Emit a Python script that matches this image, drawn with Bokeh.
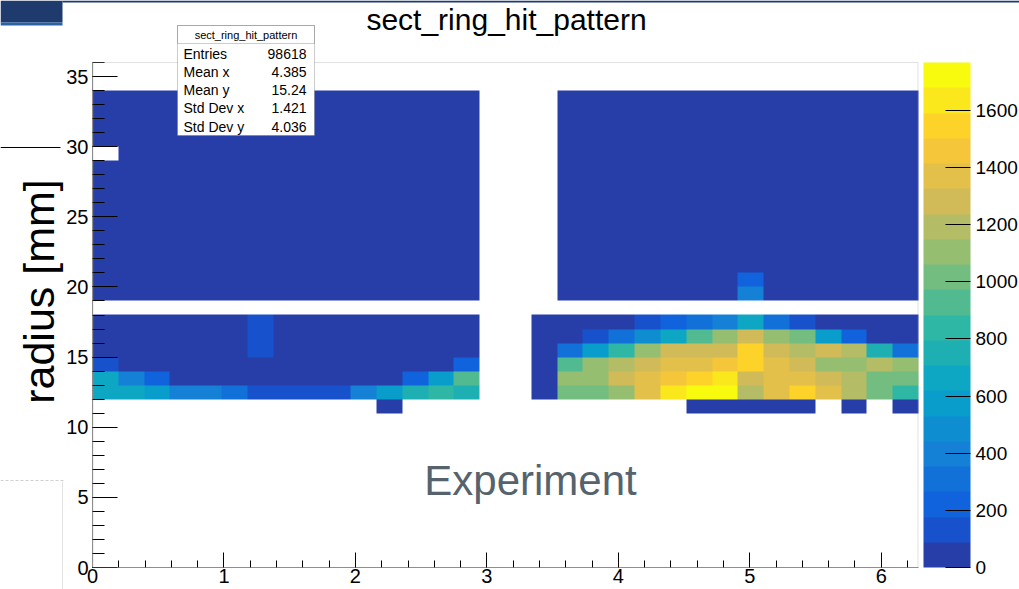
import numpy as np
from bokeh.plotting import figure
from bokeh.models import (LinearColorMapper, ColorBar, SingleIntervalTicker,
                          BoxAnnotation, Label, Range1d)
from bokeh.embed import file_html
from bokeh.resources import INLINE

# ---------------- data ----------------
HIST_NAME = "sect_ring_hit_pattern"
Y_TITLE = "radius [mm]"
TAG_TEXT = "Experiment"
N_PHI_BINS = 32
PHI_MAX = 2 * np.pi
R_MIN, R_MAX = 0, 36          # 1 mm radius bins

STAT_NAMES = ["Entries", "Mean x", "Mean y", "Std Dev x", "Std Dev y"]
STAT_VALUES = ["98618", "4.385", "15.24", "1.421", "4.036"]

CBAR_TICK_STEP = 200
N_LEVELS = 20

# counts per phi bin (32 bins over 0..2pi), one list per 1 mm radius row (lower edge); 0 = empty bin
r33 = [25, 25, 25, 25, 25, 25, 25, 25, 25, 25, 25, 25, 25, 25, 25, 0, 0, 0, 25, 25, 25, 25, 25, 25, 25, 25, 25, 25, 25, 25, 25, 25]
r32 = [25, 25, 25, 25, 25, 25, 25, 25, 25, 25, 25, 25, 25, 25, 25, 0, 0, 0, 25, 25, 25, 25, 25, 25, 25, 25, 25, 25, 25, 25, 25, 25]
r31 = [25, 25, 25, 25, 25, 25, 25, 25, 25, 25, 25, 25, 25, 25, 25, 0, 0, 0, 25, 25, 25, 25, 25, 25, 25, 25, 25, 25, 25, 25, 25, 25]
r30 = [25, 25, 25, 25, 25, 25, 25, 25, 25, 25, 25, 25, 25, 25, 25, 0, 0, 0, 25, 25, 25, 25, 25, 25, 25, 25, 25, 25, 25, 25, 25, 25]
r29 = [0, 25, 25, 25, 25, 25, 25, 25, 25, 25, 25, 25, 25, 25, 25, 0, 0, 0, 25, 25, 25, 25, 25, 25, 25, 25, 25, 25, 25, 25, 25, 25]
r28 = [25, 25, 25, 25, 25, 25, 25, 25, 25, 25, 25, 25, 25, 25, 25, 0, 0, 0, 25, 25, 25, 25, 25, 25, 25, 25, 25, 25, 25, 25, 25, 25]
r27 = [25, 25, 25, 25, 25, 25, 25, 25, 25, 25, 25, 25, 25, 25, 25, 0, 0, 0, 25, 25, 25, 25, 25, 25, 25, 25, 25, 25, 25, 25, 25, 25]
r26 = [25, 25, 25, 25, 25, 25, 25, 25, 25, 25, 25, 25, 25, 25, 25, 0, 0, 0, 25, 25, 25, 25, 25, 25, 25, 25, 25, 25, 25, 25, 25, 25]
r25 = [25, 25, 25, 25, 25, 25, 25, 25, 25, 25, 25, 25, 25, 25, 25, 0, 0, 0, 25, 25, 25, 25, 25, 25, 25, 25, 25, 25, 25, 25, 25, 25]
r24 = [25, 25, 25, 25, 25, 25, 25, 25, 25, 25, 25, 25, 25, 25, 25, 0, 0, 0, 25, 25, 25, 25, 25, 25, 25, 25, 25, 25, 25, 25, 25, 25]
r23 = [25, 25, 25, 25, 25, 25, 25, 25, 25, 25, 25, 25, 25, 25, 25, 0, 0, 0, 25, 25, 25, 25, 25, 25, 25, 25, 25, 25, 25, 25, 25, 25]
r22 = [25, 25, 25, 25, 25, 25, 25, 25, 25, 25, 25, 25, 25, 25, 25, 0, 0, 0, 25, 25, 25, 25, 25, 25, 25, 25, 25, 25, 25, 25, 25, 25]
r21 = [25, 25, 25, 25, 25, 25, 25, 25, 25, 25, 25, 25, 25, 25, 25, 0, 0, 0, 25, 25, 25, 25, 25, 25, 25, 25, 25, 25, 25, 25, 25, 25]
r20 = [25, 25, 25, 25, 25, 25, 25, 25, 25, 25, 25, 25, 25, 25, 25, 0, 0, 0, 25, 25, 25, 25, 25, 25, 25, 220, 25, 25, 25, 25, 25, 25]
r19 = [25, 25, 25, 25, 25, 25, 25, 25, 25, 25, 25, 25, 25, 25, 25, 0, 0, 0, 25, 25, 25, 25, 25, 25, 25, 400, 25, 25, 25, 25, 25, 25]
r17 = [25, 25, 25, 25, 25, 25, 130, 25, 25, 25, 25, 25, 25, 25, 25, 0, 0,
       25, 25, 25, 25, 130, 220, 310, 400, 665, 310, 130, 25, 25, 25, 25]
r16 = [25, 25, 25, 25, 25, 25, 130, 25, 25, 25, 25, 25, 25, 25, 25, 0, 0,
       25, 25, 130, 310, 490, 665, 930, 1105, 1285, 1105, 1020, 575, 220, 25, 25]
r15 = [25, 25, 25, 25, 25, 25, 130, 25, 25, 25, 25, 25, 25, 25, 25, 0, 0,
       25, 310, 575, 840, 1105, 1285, 1285, 1285, 1550, 1285, 1195, 1285, 1195, 750, 310]
r14 = [130, 25, 25, 25, 25, 25, 25, 25, 25, 25, 25, 25, 25, 25, 220, 0, 0,
       25, 930, 1105, 1195, 1285, 1370, 1370, 1460, 1550, 1370, 1285, 1105, 1105, 1195, 1105]
r13 = [665, 400, 220, 25, 25, 25, 25, 25, 25, 25, 25, 25, 220, 575, 930, 0, 0,
       25, 1105, 1105, 1285, 1370, 1460, 1550, 1640, 1285, 1370, 1370, 1285, 1195, 1020, 1020]
r12 = [665, 665, 575, 400, 380, 310, 130, 130, 130, 130, 400, 600, 750, 840, 750, 0, 0,
       25, 1020, 1020, 1105, 1370, 1640, 1730, 1768, 1195, 1370, 1550, 1370, 1195, 1020, 840]
r11 = [0, 0, 0, 0, 0, 0, 0, 0, 0, 0, 0, 25, 0, 0, 0, 0, 0,
       0, 0, 0, 0, 0, 0, 25, 25, 25, 25, 25, 0, 25, 0, 25]

ROWS = {33: r33, 32: r32, 31: r31, 30: r30, 29: r29, 28: r28, 27: r27, 26: r26, 25: r25,
        24: r24, 23: r23, 22: r22, 21: r21, 20: r20, 19: r19,
        17: r17, 16: r16, 15: r15, 14: r14, 13: r13, 12: r12, 11: r11}

# ---------------- ROOT kBird palette (20 contour levels) ----------------
BIRD_R = [0.2082, 0.0592, 0.0780, 0.0232, 0.1802, 0.5301, 0.8186, 0.9956, 0.9764]
BIRD_G = [0.1664, 0.3599, 0.5041, 0.6419, 0.7178, 0.7492, 0.7328, 0.7862, 0.9832]
BIRD_B = [0.5293, 0.8684, 0.8385, 0.7914, 0.6425, 0.4662, 0.3499, 0.1968, 0.0539]
stops = np.linspace(0, 1, len(BIRD_R))
palette = []
for i in range(N_LEVELS):
    t = int((i + 0.99) * 255 / N_LEVELS) / 254
    rgb = [int(round(255 * np.interp(t, stops, c))) for c in (BIRD_R, BIRD_G, BIRD_B)]
    palette.append("#%02x%02x%02x" % tuple(rgb))

# ---------------- 2D histogram array (rows = radius bins, cols = phi bins) ----------------
n_r = R_MAX - R_MIN
grid = np.full((n_r, N_PHI_BINS), np.nan)
for r_low, counts in ROWS.items():
    row = np.array(counts, dtype=float)
    row[row <= 0] = np.nan
    grid[r_low - R_MIN, :] = row
z_max = float(np.nanmax(grid))
mapper = LinearColorMapper(palette=palette, low=0, high=z_max, nan_color=(0, 0, 0, 0))

# ---------------- layout geometry (canvas pixels) ----------------
W, H = 1019, 589
F_L, F_R, F_T, F_B = 92, 918, 62, 567          # histogram pad frame inside the canvas

def dx(px):
    return (px - F_L) / (F_R - F_L) * PHI_MAX

def dy(py):
    return R_MIN + (F_B - py) / (F_B - F_T) * (R_MAX - R_MIN)

FONT = "Liberation Sans"
# the plotting frame covers the whole canvas; axes are pinned to the histogram pad with fixed_location
p = figure(width=W, height=H, x_range=Range1d(dx(0), dx(W)), y_range=Range1d(dy(H), dy(0)),
           output_backend="svg", toolbar_location=None,
           min_border_left=0, min_border_right=0, min_border_top=0, min_border_bottom=0,
           background_fill_color="white", border_fill_color="white", outline_line_color=None)
p.title.visible = False
p.grid.visible = False

p.image(image=[grid], x=0, y=R_MIN, dw=PHI_MAX, dh=n_r, color_mapper=mapper)

for ax in (p.xaxis[0], p.yaxis[0]):
    ax.fixed_location = 0
    ax.axis_line_color = "#8a8a8a"
    ax.major_tick_line_color = "black"
    ax.minor_tick_line_color = "black"
    ax.major_tick_out = 0
    ax.minor_tick_out = 0
    ax.major_label_text_font = FONT
    ax.major_label_text_font_size = "20px"
    ax.major_label_text_color = "black"

p.xaxis.bounds = (0, PHI_MAX)
p.xaxis.ticker = SingleIntervalTicker(interval=1, num_minor_ticks=5)
p.xaxis.major_tick_in = 15
p.xaxis.minor_tick_in = 7
p.xaxis.major_label_standoff = 1

p.yaxis.bounds = (R_MIN, R_MAX)
p.yaxis.ticker = SingleIntervalTicker(interval=5, num_minor_ticks=5)
p.yaxis.major_tick_in = 25
p.yaxis.minor_tick_in = 12
p.yaxis.major_label_standoff = 4

cb = ColorBar(color_mapper=mapper,
              ticker=SingleIntervalTicker(interval=CBAR_TICK_STEP, num_minor_ticks=0),
              location=(F_R + 5, H - F_B), width=47, height=F_B - F_T, padding=0, margin=0,
              major_tick_in=25, major_tick_out=0, major_tick_line_color="black",
              minor_tick_line_color=None, label_standoff=5,
              major_label_text_font=FONT, major_label_text_font_size="19px",
              major_label_text_color="black",
              bar_line_color=None, border_line_color=None, background_fill_alpha=0)
p.add_layout(cb)

# ---------------- helpers (canvas pixel placement) ----------------
def cbox(l, r, t, b, **kw):
    return BoxAnnotation(left=l, right=r, top=t, bottom=b, left_units="canvas", right_units="canvas",
                         top_units="canvas", bottom_units="canvas", **kw)

def clabel(x, y, text, **kw):
    return Label(x=x, y=y, x_units="canvas", y_units="canvas", text=text, text_font=FONT, **kw)

# histogram pad frame (top and right sides, grey)
p.add_layout(cbox(F_L + 0.5, F_R - 0.5, F_T, F_B, fill_alpha=0, line_color="#9a9a9a", line_width=1))

# slide decorations seen in the screenshot
p.add_layout(cbox(0, 3, 25, 479, fill_color="white", fill_alpha=1, line_color=None))
p.add_layout(cbox(0, 62, 0, 22, fill_color="#1f3a6d", fill_alpha=1, line_color=None))
p.add_layout(cbox(0, 62, 22, 25, fill_color="#2a62a6", fill_alpha=1, line_color=None))
p.add_layout(cbox(62, W, 0, 2, fill_color="#1f3a6d", fill_alpha=1, line_color=None))
p.add_layout(cbox(0, 60, 146.5, 147.5, fill_color="black", fill_alpha=1, line_color=None))
for x0 in range(0, 62, 5):   # short light-grey dashes
    p.add_layout(cbox(x0, x0 + 3, 479.5, 480.5, fill_color="#cfcfcf", fill_alpha=1, line_color=None))
p.add_layout(cbox(61.5, 62.5, 481, H, fill_color="#e2e2e2", fill_alpha=1, line_color=None))

# title
p.add_layout(clabel(506, 19, HIST_NAME, text_align="center", text_baseline="middle",
                    text_font_size="30px", text_color="black"))
# y axis title
p.add_layout(clabel(38, 291, Y_TITLE, angle=np.pi / 2, text_align="center", text_baseline="middle",
                    text_font_size="43px", text_color="black"))
# experiment tag
p.add_layout(clabel(530, 480, TAG_TEXT, text_align="center", text_baseline="middle",
                    text_font_size="42px", text_color="#56636d"))

# stats box
p.add_layout(cbox(177, 314, 25, 135, fill_color="white", fill_alpha=1, line_color="#555555", line_width=1))
p.add_layout(cbox(177, 314, 25, 43, fill_alpha=0, line_color="#555555", line_width=1))
p.add_layout(clabel(245.5, 34.5, HIST_NAME, text_align="center", text_baseline="middle",
                    text_font_size="11px", text_color="black"))
row_y = [53, 71, 89, 107, 126]
for name, val, yy in zip(STAT_NAMES, STAT_VALUES, row_y):
    p.add_layout(clabel(183, yy, name, text_align="left", text_baseline="middle",
                        text_font_size="14px", text_color="black"))
    p.add_layout(clabel(306, yy, val, text_align="right", text_baseline="middle",
                        text_font_size="14px", text_color="black"))

open("out.html", "w").write(file_html(p, INLINE))
